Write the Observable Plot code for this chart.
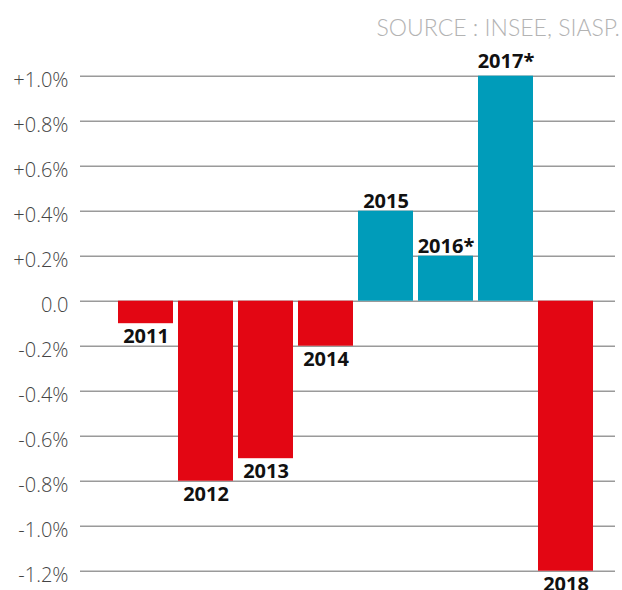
<!DOCTYPE html>
<html>
<head>
<meta charset="utf-8">
<script src="https://cdn.jsdelivr.net/npm/d3@7"></script>
<script src="https://cdn.jsdelivr.net/npm/@observablehq/plot@0.6"></script>
<style>
  html, body { margin: 0; padding: 0; background: #fff; overflow: hidden; }
  #source { height: 50px; box-sizing: border-box; padding-top: 17px; padding-right: 2px; text-align: right;
    font-family: Lato, "Open Sans", sans-serif; font-weight: 300; font-size: 23px; line-height: 21px; color: #b3b3b3; }
</style>
</head>
<body>
<div id="source">SOURCE : INSEE, SIASP.</div>
<div id="chart"></div>
<script>
const years = ["2011", "2012", "2013", "2014", "2015", "2016*", "2017*", "2018"];
const values = [-0.1, -0.8, -0.7, -0.2, 0.4, 0.2, 1.0, -1.2];
const yTicks = [1.0, 0.8, 0.6, 0.4, 0.2, 0.0, -0.2, -0.4, -0.6, -0.8, -1.0, -1.2];
const tickLabels = ["+1.0%", "+0.8%", "+0.6%", "+0.4%", "+0.2%", "0.0", "-0.2%", "-0.4%", "-0.6%", "-0.8%", "-1.0%", "-1.2%"];

const data = years.map((year, i) => ({year, value: values[i]}));
const positive = data.filter(d => d.value >= 0);
const negative = data.filter(d => d.value < 0);
const maxValue = d3.max(values);

const labelStyle = {fontSize: 20, fontWeight: "bold", fill: "#111"};

const chart = Plot.plot({
  width: 622,
  height: 540,
  marginTop: 25.7,
  marginBottom: 19.3,
  marginLeft: 80,
  marginRight: 7,
  style: {fontFamily: "'Open Sans', sans-serif", background: "#fff", overflow: "visible"},
  x: {domain: years, paddingInner: 5 / 60, paddingOuter: 0.5, align: 38 / 60, round: false, axis: null},
  y: {domain: [-1.2, 1.0], axis: null},
  marks: [
    Plot.ruleY(yTicks, {stroke: "#9a9a9a", strokeWidth: 1.5}),
    Plot.barY(data, {x: "year", y: "value", fill: d => d.value >= 0 ? "#009cba" : "#e30613"}),
    Plot.text(positive.filter(d => d.value < maxValue), {x: "year", y: "value", text: "year",
      lineAnchor: "bottom", dy: -3.5, ...labelStyle}),
    Plot.text(positive.filter(d => d.value === maxValue), {x: "year", y: "value", text: "year",
      lineAnchor: "bottom", dy: -8, ...labelStyle}),
    Plot.text(negative, {x: "year", y: "value", text: "year", lineAnchor: "top", dy: 5.5, ...labelStyle}),
    Plot.axisY(yTicks, {tickSize: 0, tickPadding: 12, label: null, fontSize: 20, fontWeight: 300,
      color: "#444", dy: 4,
      tickFormat: d => tickLabels[yTicks.findIndex(t => Math.abs(t - d) < 1e-9)]})
  ]
});
document.getElementById("chart").append(chart);
</script>
</body>
</html>
